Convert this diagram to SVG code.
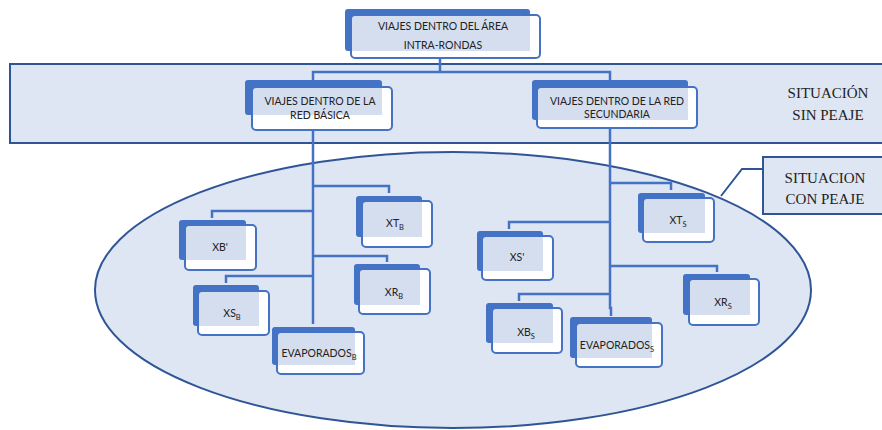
<svg xmlns="http://www.w3.org/2000/svg" width="882" height="430" viewBox="0 0 882 430">
<style>
.bg{fill:#fff}
.band{fill:#DFE6F3;stroke:#2F5597;stroke-width:2}
.back{fill:#4472C4}
.frontfill{fill:#fff}
.inner{fill:#D5DEEF}
.frontline{fill:none;stroke:#4472C4;stroke-width:2}
.conn{fill:none;stroke:#4472C4;stroke-width:2.5}
.call{fill:none;stroke:#2F5597;stroke-width:2}
.t{font-family:Lato,"Open Sans",sans-serif;font-size:10.5px;fill:#222;text-anchor:middle}
.s{font-family:"Liberation Serif","Times New Roman",serif;font-size:15px;fill:#222;text-anchor:middle}
.sub{font-size:7.5px}
</style>
<rect class="bg" x="0" y="0" width="882" height="430"/>
<rect class="band" x="10" y="64" width="880" height="79"/>
<ellipse class="band" cx="453" cy="290" rx="358" ry="138"/>
<g id="callout-situacion-con-peaje">
<rect class="band" x="763" y="157" width="125" height="57"/>
<polyline class="call" points="763,169 742,169 721,196"/>
<text class="s" x="825" y="183">SITUACION</text>
<text class="s" x="825" y="204">CON PEAJE</text>
</g>
<g id="label-situacion-sin-peaje">
<text class="s" x="828" y="98">SITUACIÓN</text>
<text class="s" x="828" y="120">SIN PEAJE</text>
</g>
<g id="connectors">
<polyline class="conn" points="440,58 440,72"/>
<polyline class="conn" points="313,80 313,72 610,72 610,80"/>
<polyline class="conn" points="313,128 313,324"/>
<polyline class="conn" points="313,186 389,186 389,193"/>
<polyline class="conn" points="313,211 212,211 212,218"/>
<polyline class="conn" points="313,256 387,256 387,262"/>
<polyline class="conn" points="313,276 226,276 226,283"/>
<polyline class="conn" points="610,128 610,308 611,308 611,316"/>
<polyline class="conn" points="610,183 671,183 671,190"/>
<polyline class="conn" points="610,222 509,222 509,229"/>
<polyline class="conn" points="610,266 717,266 717,272"/>
<polyline class="conn" points="610,294 519,294 519,301"/>
</g>
<g id="node-intra-rondas">
<rect class="back" x="345" y="9" width="185" height="42" rx="3"/>
<rect class="frontfill" x="351" y="15" width="189" height="43" rx="4"/>
<rect class="inner" x="352" y="16" width="178" height="35"/>
<rect class="frontline" x="351" y="15" width="189" height="43" rx="4"/>
<text class="t" x="443" y="30">VIAJES DENTRO DEL ÁREA</text>
<text class="t" x="443" y="49">INTRA-RONDAS</text>
</g>
<g id="node-red-basica">
<rect class="back" x="245" y="80" width="137" height="35" rx="3"/>
<rect class="frontfill" x="252" y="87" width="140" height="43" rx="4"/>
<rect class="inner" x="253" y="88" width="129" height="27"/>
<rect class="frontline" x="252" y="87" width="140" height="43" rx="4"/>
<text class="t" x="320" y="105">VIAJES DENTRO DE LA</text>
<text class="t" x="320" y="119">RED BÁSICA</text>
</g>
<g id="node-red-secundaria">
<rect class="back" x="532" y="80" width="156" height="40" rx="3"/>
<rect class="frontfill" x="537" y="87" width="160" height="41" rx="4"/>
<rect class="inner" x="538" y="88" width="150" height="32"/>
<rect class="frontline" x="537" y="87" width="160" height="41" rx="4"/>
<text class="t" x="617" y="105">VIAJES DENTRO DE LA RED</text>
<text class="t" x="617" y="118">SECUNDARIA</text>
</g>
<g id="node-xtb">
<rect class="back" x="356" y="196" width="66" height="41" rx="3"/>
<rect class="frontfill" x="362" y="201" width="70" height="46" rx="4"/>
<rect class="inner" x="363" y="202" width="59" height="35"/>
<rect class="frontline" x="362" y="201" width="70" height="46" rx="4"/>
<text class="t" x="395" y="227">XT<tspan class="sub" dy="3">B</tspan></text>
</g>
<g id="node-xb-prime">
<rect class="back" x="179" y="220" width="67" height="40" rx="3"/>
<rect class="frontfill" x="185" y="225" width="71" height="45" rx="4"/>
<rect class="inner" x="186" y="226" width="60" height="34"/>
<rect class="frontline" x="185" y="225" width="71" height="45" rx="4"/>
<text class="t" x="220" y="251">XB'</text>
</g>
<g id="node-xrb">
<rect class="back" x="354" y="264" width="66" height="41" rx="3"/>
<rect class="frontfill" x="359" y="269" width="71" height="45" rx="4"/>
<rect class="inner" x="360" y="270" width="60" height="35"/>
<rect class="frontline" x="359" y="269" width="71" height="45" rx="4"/>
<text class="t" x="394" y="296">XR<tspan class="sub" dy="3">B</tspan></text>
</g>
<g id="node-xsb">
<rect class="back" x="193" y="285" width="66" height="41" rx="3"/>
<rect class="frontfill" x="198" y="291" width="71" height="44" rx="4"/>
<rect class="inner" x="199" y="292" width="60" height="34"/>
<rect class="frontline" x="198" y="291" width="71" height="44" rx="4"/>
<text class="t" x="232" y="317">XS<tspan class="sub" dy="3">B</tspan></text>
</g>
<g id="node-evaporados-b">
<rect class="back" x="272" y="327" width="83" height="38" rx="3"/>
<rect class="frontfill" x="277" y="332" width="87" height="42" rx="4"/>
<rect class="inner" x="278" y="333" width="77" height="32"/>
<rect class="frontline" x="277" y="332" width="87" height="42" rx="4"/>
<text class="t" x="319" y="357">EVAPORADOS<tspan class="sub" dy="3">B</tspan></text>
</g>
<g id="node-xts">
<rect class="back" x="638" y="193" width="67" height="40" rx="3"/>
<rect class="frontfill" x="643" y="198" width="71" height="44" rx="4"/>
<rect class="inner" x="644" y="199" width="61" height="34"/>
<rect class="frontline" x="643" y="198" width="71" height="44" rx="4"/>
<text class="t" x="678" y="224">XT<tspan class="sub" dy="3">S</tspan></text>
</g>
<g id="node-xs-prime">
<rect class="back" x="477" y="231" width="66" height="40" rx="3"/>
<rect class="frontfill" x="482" y="236" width="71" height="44" rx="4"/>
<rect class="inner" x="483" y="237" width="60" height="34"/>
<rect class="frontline" x="482" y="236" width="71" height="44" rx="4"/>
<text class="t" x="517" y="261">XS'</text>
</g>
<g id="node-xrs">
<rect class="back" x="683" y="274" width="67" height="41" rx="3"/>
<rect class="frontfill" x="689" y="279" width="70" height="46" rx="4"/>
<rect class="inner" x="690" y="280" width="60" height="35"/>
<rect class="frontline" x="689" y="279" width="70" height="46" rx="4"/>
<text class="t" x="723" y="306">XR<tspan class="sub" dy="3">S</tspan></text>
</g>
<g id="node-xbs">
<rect class="back" x="486" y="303" width="67" height="40" rx="3"/>
<rect class="frontfill" x="492" y="308" width="70" height="45" rx="4"/>
<rect class="inner" x="493" y="309" width="60" height="34"/>
<rect class="frontline" x="492" y="308" width="70" height="45" rx="4"/>
<text class="t" x="526" y="336">XB<tspan class="sub" dy="3">S</tspan></text>
</g>
<g id="node-evaporados-s">
<rect class="back" x="570" y="317" width="82" height="41" rx="3"/>
<rect class="frontfill" x="576" y="323" width="86" height="44" rx="4"/>
<rect class="inner" x="577" y="324" width="75" height="34"/>
<rect class="frontline" x="576" y="323" width="86" height="44" rx="4"/>
<text class="t" x="617" y="349">EVAPORADOS<tspan class="sub" dy="3">S</tspan></text>
</g>
</svg>
